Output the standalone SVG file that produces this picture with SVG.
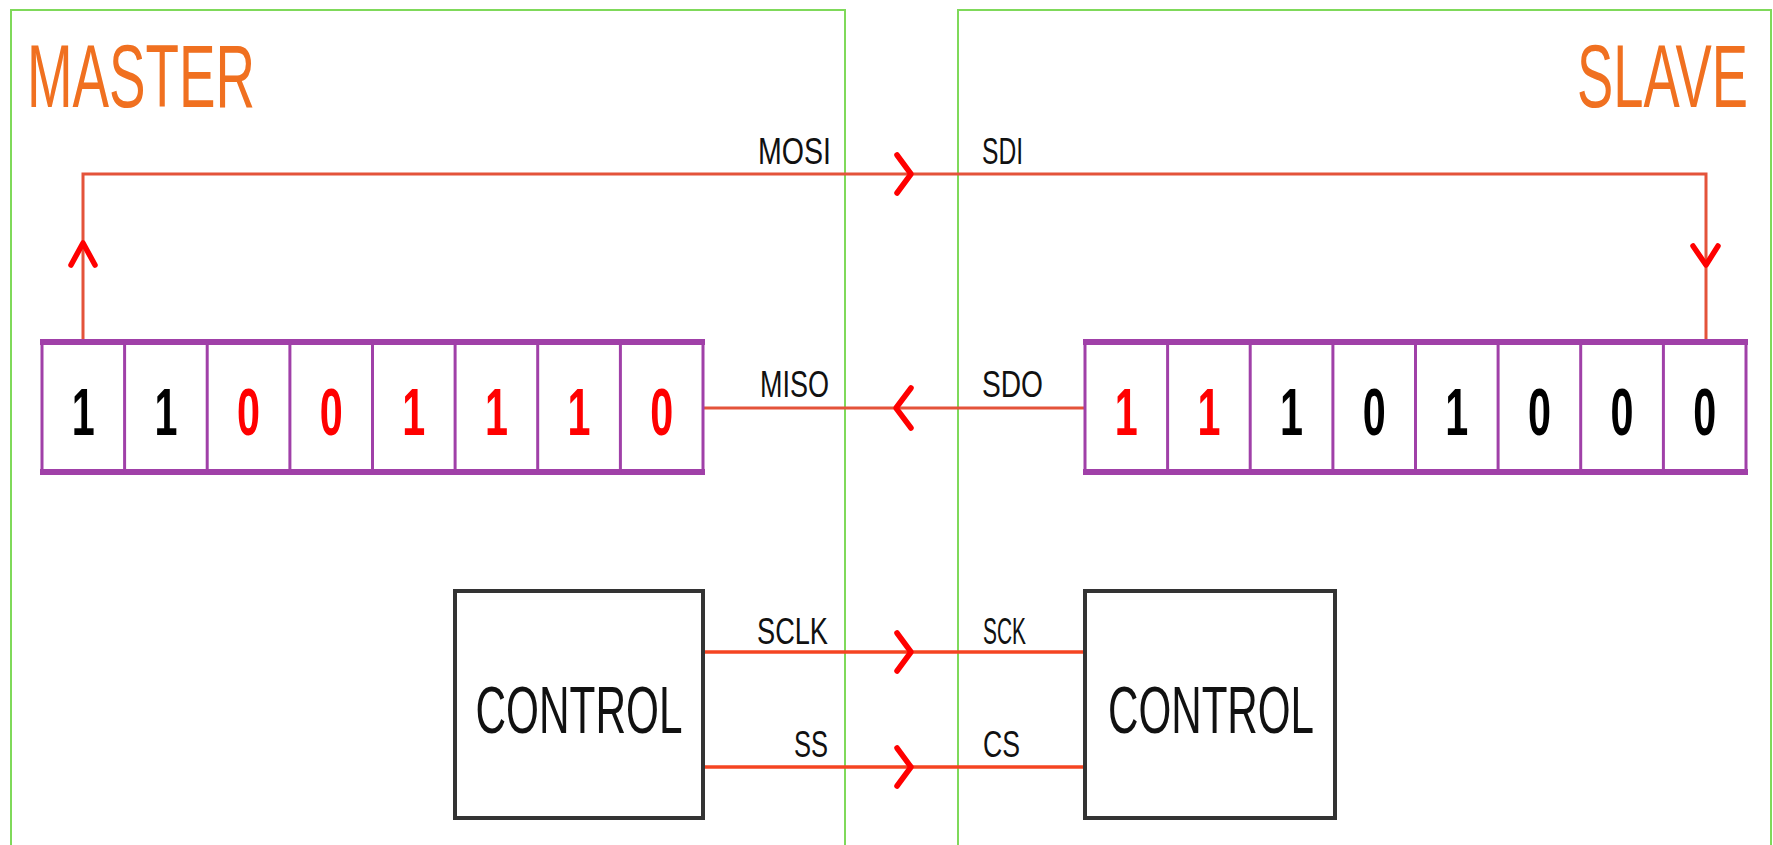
<svg xmlns="http://www.w3.org/2000/svg" width="1773" height="845" viewBox="0 0 1773 845">
<style>
.frame{fill:none;stroke:#7fd95a;stroke-width:2}
.title{font-family:"Liberation Sans",Arial,sans-serif;font-size:89px;fill:#f07020}
.lbl{font-family:"Liberation Sans",Arial,sans-serif;font-size:36px;fill:#111}
.end{text-anchor:end}
.dig{font-family:"Liberation Sans",Arial,sans-serif;font-size:66px;font-weight:bold;text-anchor:middle}
.ctl{font-family:"Liberation Sans",Arial,sans-serif;font-size:67px;fill:#111;text-anchor:middle}
.r{fill:#ff0000}
.k{fill:#000}
.reg{fill:#fff;stroke:#a040a8;stroke-width:3}
.regedge{stroke:#a040a8;stroke-width:6}
.div{stroke:#a040a8;stroke-width:3}
.box{fill:#fff;stroke:#333;stroke-width:4}
.wire{fill:none;stroke:#e4533a;stroke-width:3}
.wire2{fill:none;stroke:#f54422;stroke-width:3.5}
.chev{fill:none;stroke:#ff0000;stroke-width:5.5;stroke-linecap:round;stroke-linejoin:round}
</style>
<rect width="1773" height="845" fill="#fff"/>
<g id="master-frame">
<rect class="frame" x="11" y="10" width="834" height="850"/>
<text class="title" x="27" y="107" textLength="228" lengthAdjust="spacingAndGlyphs">MASTER</text>
</g>
<g id="slave-frame">
<rect class="frame" x="958" y="10" width="813" height="850"/>
<text class="title end" x="1748" y="107" textLength="171" lengthAdjust="spacingAndGlyphs">SLAVE</text>
</g>
<g id="connectors">
<polyline class="wire" points="83,341 83,174 1706,174 1706,341"/>
<line class="wire" x1="703" y1="408" x2="1085" y2="408"/>
<line class="wire2" x1="703" y1="652" x2="1085" y2="652"/>
<line class="wire2" x1="703" y1="767" x2="1085" y2="767"/>
<polyline class="chev" points="71,265 83,243 95,265"/>
<polyline class="chev" points="1693,246 1706,265 1718,246"/>
<polyline class="chev" points="897,155 911,174 897,193"/>
<polyline class="chev" points="911,388 896,408 911,428"/>
<polyline class="chev" points="897,633 911,652 897,671"/>
<polyline class="chev" points="897,748 911,767 897,786"/>
<text class="lbl end" x="831" y="164" textLength="73" lengthAdjust="spacingAndGlyphs">MOSI</text>
<text class="lbl" x="982" y="164" textLength="41" lengthAdjust="spacingAndGlyphs">SDI</text>
<text class="lbl end" x="829" y="397" textLength="69" lengthAdjust="spacingAndGlyphs">MISO</text>
<text class="lbl" x="982" y="397" textLength="61" lengthAdjust="spacingAndGlyphs">SDO</text>
<text class="lbl end" x="828" y="644" textLength="71" lengthAdjust="spacingAndGlyphs">SCLK</text>
<text class="lbl" x="983" y="644" textLength="43" lengthAdjust="spacingAndGlyphs">SCK</text>
<text class="lbl end" x="828" y="757" textLength="34" lengthAdjust="spacingAndGlyphs">SS</text>
<text class="lbl" x="983" y="757" textLength="37" lengthAdjust="spacingAndGlyphs">CS</text>
</g>
<g id="master-register">
<rect class="reg" x="42" y="342" width="661" height="130"/>
<line class="regedge" x1="40" y1="342" x2="705" y2="342"/>
<line class="regedge" x1="40" y1="472" x2="705" y2="472"/>
<line class="div" x1="124.6" y1="342" x2="124.6" y2="472"/>
<line class="div" x1="207.2" y1="342" x2="207.2" y2="472"/>
<line class="div" x1="289.9" y1="342" x2="289.9" y2="472"/>
<line class="div" x1="372.5" y1="342" x2="372.5" y2="472"/>
<line class="div" x1="455.1" y1="342" x2="455.1" y2="472"/>
<line class="div" x1="537.7" y1="342" x2="537.7" y2="472"/>
<line class="div" x1="620.4" y1="342" x2="620.4" y2="472"/>
<text class="dig k" x="83.3" y="435" textLength="23" lengthAdjust="spacingAndGlyphs">1</text>
<text class="dig k" x="165.9" y="435" textLength="23" lengthAdjust="spacingAndGlyphs">1</text>
<text class="dig r" x="248.6" y="435" textLength="23" lengthAdjust="spacingAndGlyphs">0</text>
<text class="dig r" x="331.2" y="435" textLength="23" lengthAdjust="spacingAndGlyphs">0</text>
<text class="dig r" x="413.8" y="435" textLength="23" lengthAdjust="spacingAndGlyphs">1</text>
<text class="dig r" x="496.4" y="435" textLength="23" lengthAdjust="spacingAndGlyphs">1</text>
<text class="dig r" x="579.1" y="435" textLength="23" lengthAdjust="spacingAndGlyphs">1</text>
<text class="dig r" x="661.7" y="435" textLength="23" lengthAdjust="spacingAndGlyphs">0</text>
</g>
<g id="slave-register">
<rect class="reg" x="1085" y="342" width="661" height="130"/>
<line class="regedge" x1="1083" y1="342" x2="1748" y2="342"/>
<line class="regedge" x1="1083" y1="472" x2="1748" y2="472"/>
<line class="div" x1="1167.6" y1="342" x2="1167.6" y2="472"/>
<line class="div" x1="1250.2" y1="342" x2="1250.2" y2="472"/>
<line class="div" x1="1332.9" y1="342" x2="1332.9" y2="472"/>
<line class="div" x1="1415.5" y1="342" x2="1415.5" y2="472"/>
<line class="div" x1="1498.1" y1="342" x2="1498.1" y2="472"/>
<line class="div" x1="1580.7" y1="342" x2="1580.7" y2="472"/>
<line class="div" x1="1663.4" y1="342" x2="1663.4" y2="472"/>
<text class="dig r" x="1126.3" y="435" textLength="23" lengthAdjust="spacingAndGlyphs">1</text>
<text class="dig r" x="1208.9" y="435" textLength="23" lengthAdjust="spacingAndGlyphs">1</text>
<text class="dig k" x="1291.6" y="435" textLength="23" lengthAdjust="spacingAndGlyphs">1</text>
<text class="dig k" x="1374.2" y="435" textLength="23" lengthAdjust="spacingAndGlyphs">0</text>
<text class="dig k" x="1456.8" y="435" textLength="23" lengthAdjust="spacingAndGlyphs">1</text>
<text class="dig k" x="1539.4" y="435" textLength="23" lengthAdjust="spacingAndGlyphs">0</text>
<text class="dig k" x="1622.1" y="435" textLength="23" lengthAdjust="spacingAndGlyphs">0</text>
<text class="dig k" x="1704.7" y="435" textLength="23" lengthAdjust="spacingAndGlyphs">0</text>
</g>
<g id="master-control">
<rect class="box" x="455" y="591" width="248" height="227"/>
<text class="ctl" x="579" y="733" textLength="207" lengthAdjust="spacingAndGlyphs">CONTROL</text>
</g>
<g id="slave-control">
<rect class="box" x="1085" y="591" width="250" height="227"/>
<text class="ctl" x="1211" y="733" textLength="206" lengthAdjust="spacingAndGlyphs">CONTROL</text>
</g>
</svg>
